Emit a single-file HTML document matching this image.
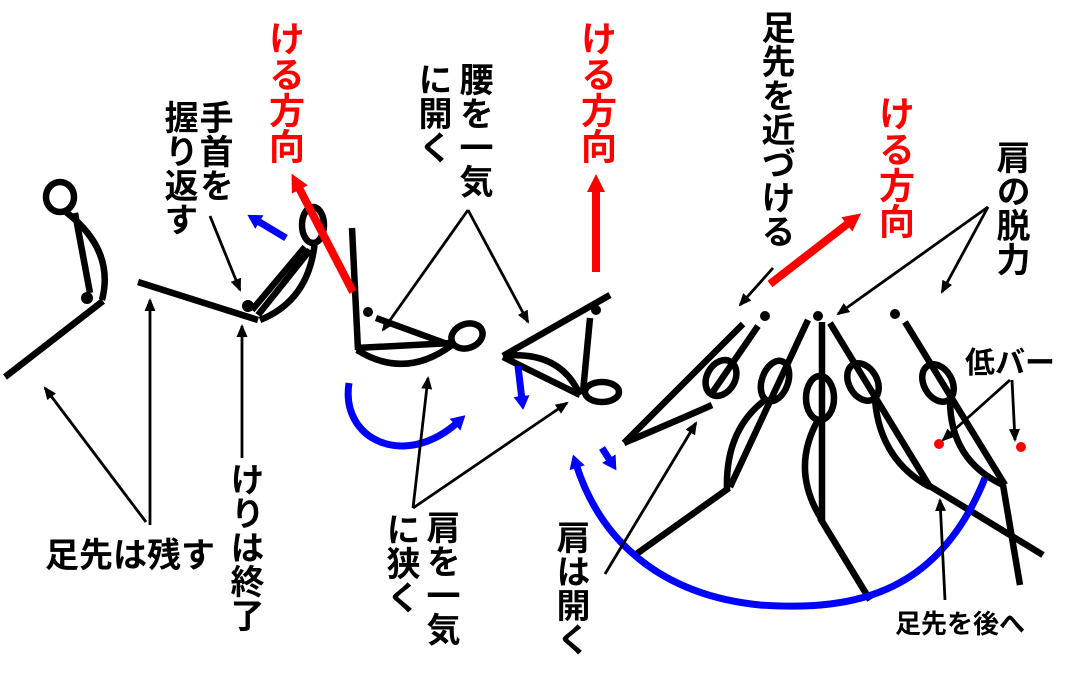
<!DOCTYPE html>
<html><head><meta charset="utf-8"><style>
html,body{margin:0;padding:0;background:#fff;}
#c{position:relative;width:1072px;height:675px;overflow:hidden;background:#fff;}
.v{position:absolute;writing-mode:vertical-rl;font-family:"Liberation Sans","Noto Sans CJK JP",sans-serif;font-size:34px;line-height:36px;color:#000;font-weight:bold;}
.r{color:#f00;font-size:36px;}
.h{position:absolute;font-family:"Liberation Sans","Noto Sans CJK JP",sans-serif;font-size:34px;color:#000;white-space:nowrap;font-weight:bold;}
svg{position:absolute;left:0;top:0;}
</style></head><body><div id="c">
<svg width="1072" height="675" viewBox="0 0 1072 675">
<defs>
<marker id="a" markerWidth="13" markerHeight="11" refX="11" refY="5.5" orient="auto" markerUnits="userSpaceOnUse"><path d="M0,0 L13,5.5 L0,11 z" fill="#000"/></marker>
<marker id="ar" markerWidth="18" markerHeight="18" refX="4" refY="9" orient="auto" markerUnits="userSpaceOnUse"><path d="M0,0 L18,9 L0,18 z" fill="#f00"/></marker>
<marker id="ab" markerWidth="14" markerHeight="16" refX="4" refY="8" orient="auto" markerUnits="userSpaceOnUse"><path d="M0,0 L14,8 L0,16 z" fill="#00f"/></marker>
</defs>
<g fill="none" stroke="#000" stroke-width="6.5" stroke-linecap="butt">
<ellipse cx="60" cy="197" rx="14" ry="15"/>
<line x1="75" y1="213" x2="90" y2="293"/>
<path d="M66,212 Q115,250 102,300"/>
<line x1="103" y1="301" x2="5" y2="377"/>
<line x1="138" y1="282" x2="258" y2="320"/>
<line x1="252" y1="310" x2="305" y2="247"/>
<line x1="258" y1="315" x2="310" y2="250"/>
<path d="M260,320 Q310,300 315,240"/>
<ellipse cx="313" cy="225" rx="11" ry="18"/>
<line x1="352" y1="228" x2="358" y2="350"/>
<line x1="376" y1="318" x2="450" y2="345"/>
<line x1="356" y1="348" x2="452" y2="343"/>
<path d="M357,350 Q405,380 452,345"/>
<ellipse cx="467" cy="336" rx="16" ry="12" transform="rotate(-20 467 336)"/>
<line x1="503" y1="356" x2="610" y2="295"/>
<line x1="590" y1="318" x2="583" y2="392"/>
<path d="M503,356 Q560,350 580,395"/>
<line x1="503" y1="357" x2="580" y2="395"/>
<ellipse cx="602" cy="392" rx="17" ry="10"/>
<line x1="743" y1="324" x2="624" y2="443"/>
<line x1="758" y1="326" x2="712" y2="393"/>
<path d="M624,443 Q690,415 712,405"/>
<ellipse cx="721" cy="378" rx="14" ry="19" transform="rotate(30 721 378)"/>
<line x1="808" y1="320" x2="730" y2="487"/>
<ellipse cx="775" cy="381" rx="13" ry="21" transform="rotate(20 775 381)"/>
<path d="M765,400 Q725,430 727,490"/>
<line x1="729" y1="488" x2="635" y2="555"/>
<line x1="822" y1="322" x2="822" y2="520"/>
<ellipse cx="820" cy="398" rx="14" ry="22"/>
<path d="M818,420 Q790,470 822,520"/>
<line x1="820" y1="518" x2="870" y2="600"/>
<line x1="830" y1="323" x2="930" y2="487"/>
<ellipse cx="863" cy="382" rx="14" ry="20" transform="rotate(-30 863 382)"/>
<path d="M875,400 Q880,460 930,487"/>
<line x1="928" y1="485" x2="1043" y2="555"/>
<line x1="905" y1="322" x2="1005" y2="485"/>
<ellipse cx="938" cy="383" rx="14" ry="20" transform="rotate(-30 938 383)"/>
<path d="M950,400 Q950,460 1003,485"/>
<line x1="1003" y1="485" x2="1020" y2="585"/>
</g>
<g fill="#000">
<circle cx="87" cy="298" r="6"/>
<circle cx="248" cy="306" r="6"/>
<circle cx="368" cy="312" r="5"/>
<circle cx="596" cy="310" r="5"/>
<circle cx="765" cy="316" r="5"/>
<circle cx="818" cy="316" r="5"/>
<circle cx="895" cy="314" r="5"/>
</g>
<circle cx="939" cy="444" r="5" fill="#f00"/>
<circle cx="1021" cy="447" r="5" fill="#f00"/>
<g stroke="#f00" stroke-width="8" fill="none">
<line x1="353" y1="292" x2="298" y2="186" marker-end="url(#ar)"/>
<line x1="596" y1="272" x2="596" y2="188" marker-end="url(#ar)"/>
<line x1="770" y1="284" x2="850" y2="222" marker-end="url(#ar)"/>
</g>
<g stroke="#00f" stroke-width="7" fill="none">
<line x1="286" y1="238" x2="256" y2="220" marker-end="url(#ab)"/>
<path d="M349,383 C340,440 405,470 458,422" marker-end="url(#ab)"/>
<line x1="518" y1="366" x2="522" y2="400" marker-end="url(#ab)"/>
<line x1="602" y1="448" x2="611" y2="462" marker-end="url(#ab)"/>
<path d="M985,478 C940,590 860,612 760,605 C660,595 600,540 576,464" marker-end="url(#ab)"/>
</g>
<g stroke="#000" stroke-width="2.8" fill="none" marker-end="url(#a)">
<line x1="150" y1="525" x2="150" y2="300"/>
<line x1="146" y1="522" x2="45" y2="388"/>
<line x1="242" y1="458" x2="242" y2="326"/>
<line x1="210" y1="216" x2="240" y2="290"/>
<line x1="468" y1="210" x2="383" y2="330"/>
<line x1="468" y1="210" x2="528" y2="322"/>
<line x1="413" y1="508" x2="428" y2="378"/>
<line x1="413" y1="508" x2="567" y2="403"/>
<line x1="605" y1="574" x2="696" y2="423"/>
<line x1="773" y1="268" x2="740" y2="305"/>
<line x1="988" y1="207" x2="838" y2="314"/>
<line x1="988" y1="207" x2="942" y2="292"/>
<line x1="1010" y1="380" x2="943" y2="440"/>
<line x1="1012" y1="380" x2="1015" y2="440"/>
<line x1="945" y1="600" x2="940" y2="500"/>
</g>
</svg>
<div class="v r" style="left:266px;top:20px;">ける方向</div>
<div class="v r" style="left:578px;top:20px;">ける方向</div>
<div class="v r" style="left:876px;top:95px;">ける方向</div>
<div class="v" style="left:195px;top:100px;">手首を</div>
<div class="v" style="left:160px;top:100px;">握り返す</div>
<div class="v" style="left:455px;top:62px;">腰を一気</div>
<div class="v" style="left:414px;top:62px;">に開く</div>
<div class="v" style="left:757px;top:10px;">足先を近づける</div>
<div class="v" style="left:992px;top:140px;">肩の脱力</div>
<div class="v" style="left:226px;top:462px;">けりは終了</div>
<div class="v" style="left:422px;top:510px;">肩を一気</div>
<div class="v" style="left:382px;top:512px;">に狭く</div>
<div class="v" style="left:552px;top:520px;">肩は開く</div>
<div class="h" style="left:45px;top:528px;">足先は残す</div>
<div class="h" style="left:895px;top:604px;font-size:26px;">足先を後へ</div>
<div class="h" style="left:965px;top:338px;font-size:30px;">低バー</div>
</div></body></html>
